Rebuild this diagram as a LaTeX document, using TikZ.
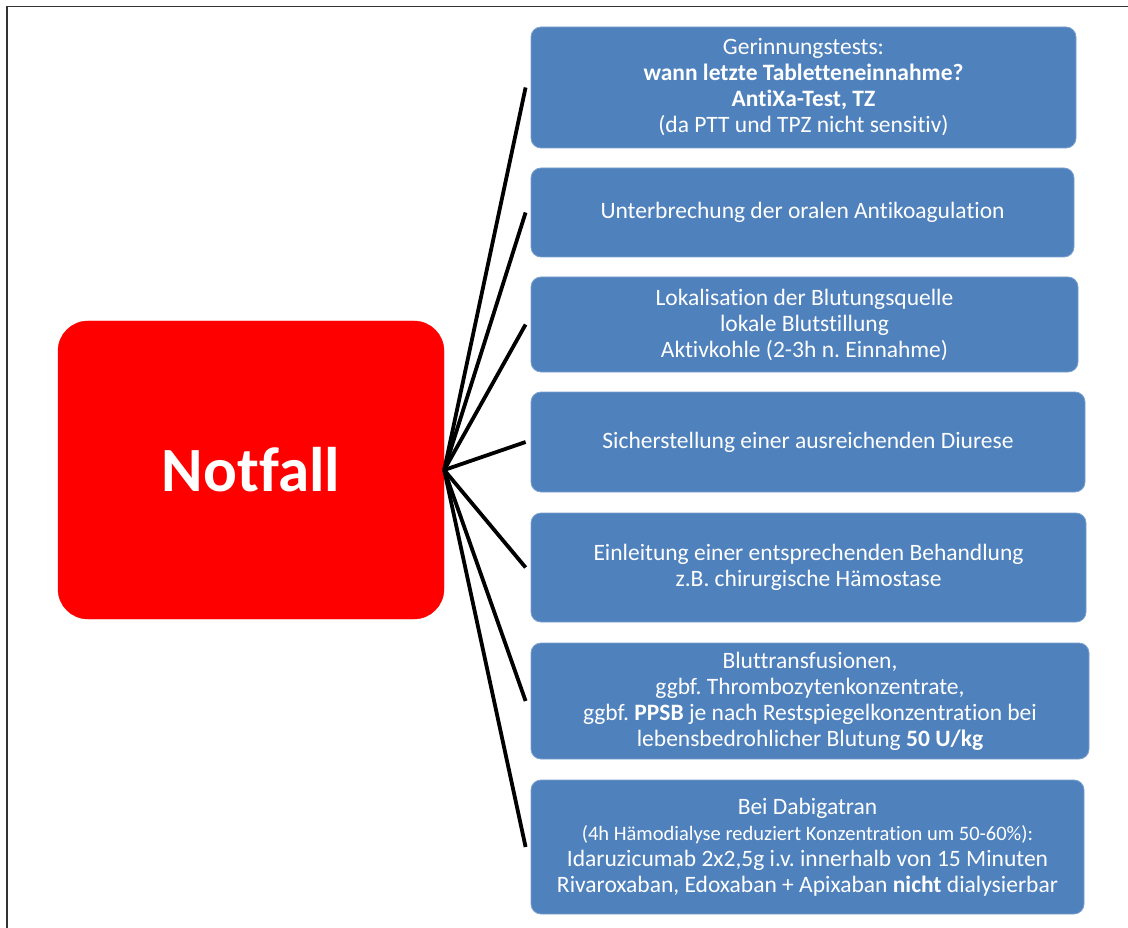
\documentclass[tikz,border=0pt]{standalone}
\usepackage{fontspec}
\setmainfont{Carlito}[Ligatures=NoCommon]
\definecolor{boxblue}{HTML}{4F81BD}
\definecolor{notred}{HTML}{FF0000}
\frenchspacing
\begin{document}
\begin{tikzpicture}[x=1pt,y=-1pt,
  item/.style={fill=boxblue, draw=boxblue!75!white, line width=0.8pt, rounded corners=10pt,
    text=white, align=center, font=\fontsize{23.5}{26}\selectfont, inner sep=0pt},
  central/.style={fill=notred, draw=notred, rounded corners=30pt, text=white,
    font=\fontsize{63}{70}\selectfont\bfseries, inner sep=0pt},
  link/.style={line width=3.8pt, black},
  frameline/.style={line width=1.6pt, black!80}]
\useasboundingbox (0,0) rectangle (1128,928);
\draw[frameline] (7,930) -- (7,6.5) -- (1130,6.5);

\node[central, minimum width=386pt, minimum height=298pt] (nf) at (251,470) {Notfall};

\node[item, minimum width=545pt, minimum height=121pt] (b1) at (803.5,87.5)
  {Gerinnungstests:\\ \textbf{wann letzte Tabletteneinnahme?}\\ \textbf{AntiXa-Test, TZ}\\ (da PTT und TPZ nicht sensitiv)};
\node[item, minimum width=543pt, minimum height=89pt] (b2) at (802.5,212.5)
  {Unterbrechung der oralen Antikoagulation};
\node[item, minimum width=547pt, minimum height=95pt] (b3) at (804.5,324.5)
  {Lokalisation der Blutungsquelle\\ lokale Blutstillung\\ Aktivkohle (2-3h n. Einnahme)};
\node[item, minimum width=554pt, minimum height=100pt] (b4) at (808,442)
  {Sicherstellung einer ausreichenden Diurese};
\node[item, minimum width=555pt, minimum height=109pt] (b5) at (808.5,567.5)
  {Einleitung einer entsprechenden Behandlung\\ z.B. chirurgische Hämostase};
\node[item, minimum width=558pt, minimum height=116pt] (b6) at (810,701)
  {Bluttransfusionen,\\ ggbf. Thrombozytenkonzentrate,\\ ggbf. \textbf{PPSB} je nach Restspiegelkonzentration bei\\ lebensbedrohlicher Blutung \textbf{50 U/kg}};
\node[item, minimum width=553pt, minimum height=134pt] (b7) at (807.5,847)
  {Bei Dabigatran\\ {\fontsize{20.5}{26}\selectfont (4h Hämodialyse reduziert Konzentration um 50-60\%):}\\ Idaruzicumab 2x2,5g i.v. innerhalb von 15 Minuten\\ Rivaroxaban, Edoxaban + Apixaban \textbf{nicht} dialysierbar};

\foreach \b in {b1,b2,b3,b4,b5,b6,b7}
  \draw[link] (nf.east) -- ([xshift=-5pt]\b.west);
\end{tikzpicture}
\end{document}
